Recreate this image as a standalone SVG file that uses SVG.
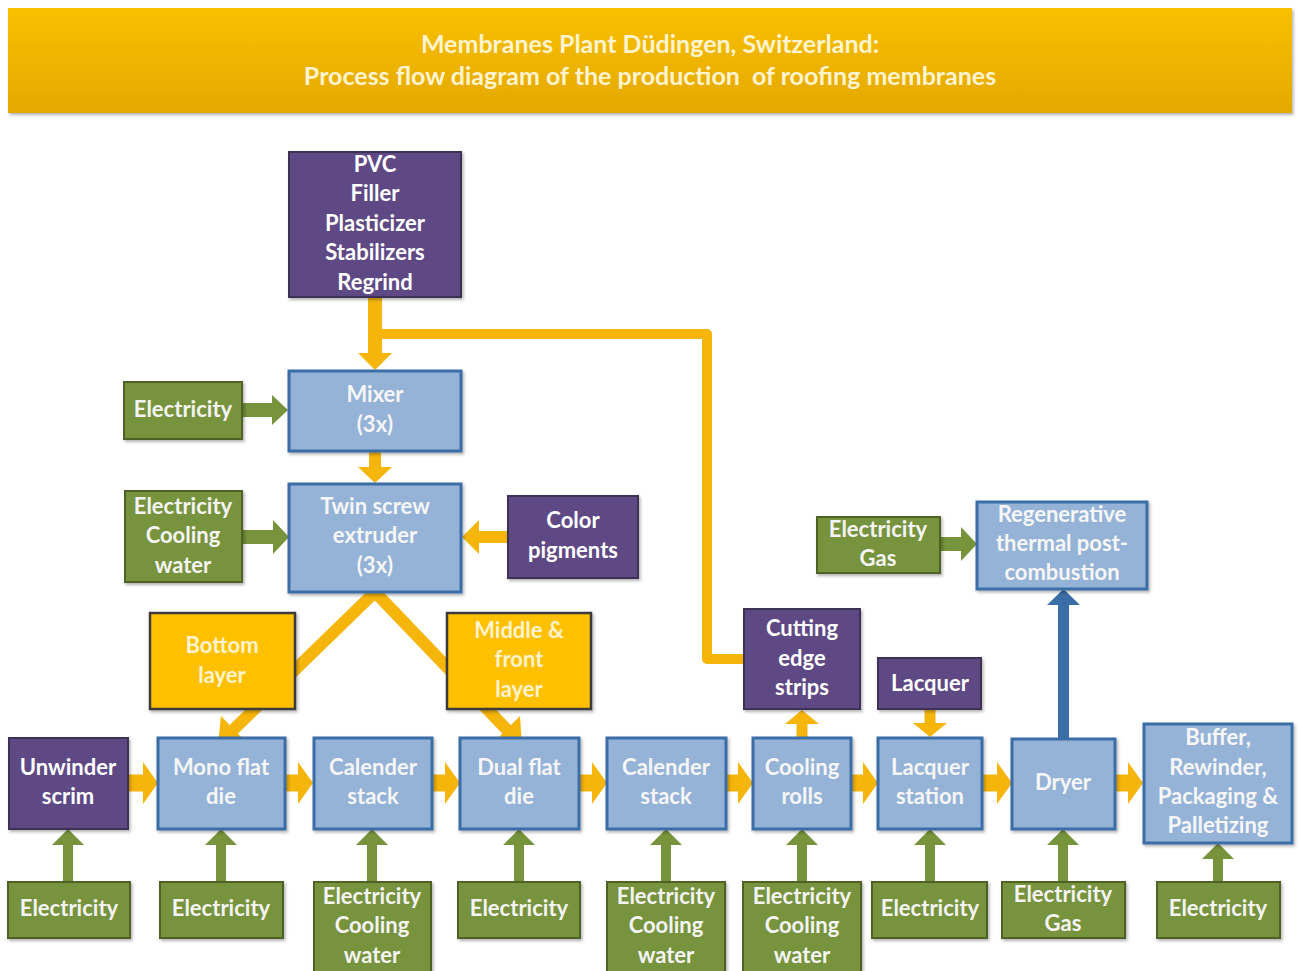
<svg xmlns="http://www.w3.org/2000/svg" width="1298" height="971" viewBox="0 0 1298 971">
<defs>
  <linearGradient id="titleGrad" x1="0" y1="0" x2="0" y2="1">
    <stop offset="0" stop-color="#f8c000"/>
    <stop offset="1" stop-color="#e4a800"/>
  </linearGradient>
  <filter id="sh" x="-10%" y="-10%" width="130%" height="130%">
    <feDropShadow dx="1.5" dy="2" stdDeviation="1.8" flood-color="#000" flood-opacity="0.3"/>
  </filter>
  <style>
    text { font-family: Lato, "Open Sans", "Liberation Sans", sans-serif; font-weight: bold; font-size: 22px; text-anchor: middle; }
    .title { fill: #fff4cf; font-size: 25px; white-space: pre; }
    .blue rect { fill: #95b3d7; stroke: #3b6da6; stroke-width: 3; filter: url(#sh); }
    .blue text { fill: #f6f6f6; }
    .purple rect { fill: #5e4a85; stroke: #3d3155; stroke-width: 2; filter: url(#sh); }
    .purple text { fill: #ffffff; }
    .green rect { fill: #77933c; stroke: #4f6228; stroke-width: 2; filter: url(#sh); }
    .green text { fill: #f4f4f4; }
    .orange rect { fill: #ffc000; stroke: #3a3a3a; stroke-width: 2.5; filter: url(#sh); }
    .orange text { fill: #fff4cf; }
    .oa { fill: #f5b50a; }
    .ol { fill: none; stroke: #f5b50a; stroke-linejoin: round; }
    .ga { fill: #77933c; }
    .ba { fill: #3b6da6; }
  </style>
</defs>
<rect width="1298" height="971" fill="#ffffff"/>

<g id="title">
  <rect x="8" y="8" width="1284" height="105" fill="url(#titleGrad)" filter="url(#sh)"/>
  <text class="title" x="650" y="53">Membranes Plant Düdingen, Switzerland:</text>
  <text class="title" x="650" y="85" xml:space="preserve">Process flow diagram of the production  of roofing membranes</text>
</g>

<g id="connectors">
  <!-- regrind loop -->
  <path class="ol" stroke-width="10" d="M 378 334 H 707 V 659 H 746"/>
  <!-- PVC to mixer -->
  <path class="oa" d="M 368 297 H 382 V 353 H 392 L 375 370 L 358 353 H 368 Z"/>
  <!-- mixer to extruder -->
  <path class="oa" d="M 369 452 H 381 V 467 H 392 L 375 483 L 358 467 H 369 Z"/>
  <!-- color pigments to extruder -->
  <path class="oa" d="M 508 531 V 543 H 479 V 554 L 462 537 L 479 520 V 531 Z"/>
  <!-- diagonals -->
  <path class="ol" stroke-width="12" d="M 230 733 L 375 592 L 512 735"/>
  <path class="oa" d="M 218 745 L 221 716 L 246 742 Z"/>
  <path class="oa" d="M 522 745 L 494 742 L 520 716 Z"/>
  <!-- bottom row horizontal arrows -->
  <path class="oa" d="M 128 774.5 H 143 V 762 L 158 783 L 143 804 V 791.5 H 128 Z"/>
  <path class="oa" d="M 285 774.5 H 298 V 762 L 313 783 L 298 804 V 791.5 H 285 Z"/>
  <path class="oa" d="M 432 774.5 H 445 V 762 L 460 783 L 445 804 V 791.5 H 432 Z"/>
  <path class="oa" d="M 579 774.5 H 592 V 762 L 607 783 L 592 804 V 791.5 H 579 Z"/>
  <path class="oa" d="M 726 774.5 H 738 V 762 L 753 783 L 738 804 V 791.5 H 726 Z"/>
  <path class="oa" d="M 851 774.5 H 863 V 762 L 878 783 L 863 804 V 791.5 H 851 Z"/>
  <path class="oa" d="M 982 774.5 H 997 V 762 L 1012 783 L 997 804 V 791.5 H 982 Z"/>
  <path class="oa" d="M 1115 774.5 H 1128 V 762 L 1143 783 L 1128 804 V 791.5 H 1115 Z"/>
  <!-- cooling rolls to cutting edge strips -->
  <path class="oa" d="M 796.5 737 V 724 H 785 L 802 710 L 819 724 H 807.5 V 737 Z"/>
  <!-- lacquer to lacquer station -->
  <path class="oa" d="M 924.5 710 V 723 H 913 L 930 737 L 947 723 H 935.5 V 710 Z"/>
  <!-- dryer to regenerative -->
  <path class="ba" d="M 1058 738 V 605 H 1047 L 1063.5 589 L 1080 605 H 1069 V 738 Z"/>
  <!-- green horizontal arrows -->
  <path class="ga" d="M 242 403 H 272 V 395 L 288 410 L 272 425 V 417 H 242 Z"/>
  <path class="ga" d="M 243 530 H 273 V 520 L 289 537 L 273 554 V 544 H 243 Z"/>
  <path class="ga" d="M 940 537 H 961 V 527 L 977 544 L 961 561 V 551 H 940 Z"/>
  <!-- green vertical arrows -->
  <path class="ga" d="M 63 882 V 845 H 52 L 68 829 L 84 845 H 73 V 882 Z"/>
  <path class="ga" d="M 216 882 V 845 H 205 L 221 829 L 237 845 H 226 V 882 Z"/>
  <path class="ga" d="M 367 882 V 845 H 356 L 372 829 L 388 845 H 377 V 882 Z"/>
  <path class="ga" d="M 514 882 V 845 H 503 L 519 829 L 535 845 H 524 V 882 Z"/>
  <path class="ga" d="M 661 882 V 845 H 650 L 666 829 L 682 845 H 671 V 882 Z"/>
  <path class="ga" d="M 797 882 V 845 H 786 L 802 829 L 818 845 H 807 V 882 Z"/>
  <path class="ga" d="M 925 882 V 845 H 914 L 930 829 L 946 845 H 935 V 882 Z"/>
  <path class="ga" d="M 1058 882 V 845 H 1047 L 1063 829 L 1079 845 H 1068 V 882 Z"/>
  <path class="ga" d="M 1213 882 V 859 H 1202 L 1218 843 L 1234 859 H 1223 V 882 Z"/>
</g>

<g id="pvc" class="purple">
  <rect x="289" y="152" width="172" height="145"/>
  <text x="375" y="172">PVC</text>
  <text x="375" y="201">Filler</text>
  <text x="375" y="231">Plasticizer</text>
  <text x="375" y="260">Stabilizers</text>
  <text x="375" y="290">Regrind</text>
</g>
<g id="mixer" class="blue">
  <rect x="289" y="371" width="172" height="80"/>
  <text x="375" y="402">Mixer</text>
  <text x="375" y="432">(3x)</text>
</g>
<g id="elec-mixer" class="green">
  <rect x="124" y="382" width="118" height="57"/>
  <text x="183" y="417">Electricity</text>
</g>
<g id="extruder" class="blue">
  <rect x="289" y="484" width="172" height="108"/>
  <text x="375" y="514">Twin screw</text>
  <text x="375" y="543">extruder</text>
  <text x="375" y="573">(3x)</text>
</g>
<g id="elec-extruder" class="green">
  <rect x="125" y="491" width="117" height="91"/>
  <text x="183" y="514">Electricity</text>
  <text x="183" y="543">Cooling</text>
  <text x="183" y="573">water</text>
</g>
<g id="color-pigments" class="purple">
  <rect x="508" y="496" width="130" height="82"/>
  <text x="573" y="528">Color</text>
  <text x="573" y="558">pigments</text>
</g>
<g id="bottom-layer" class="orange">
  <rect x="150" y="613" width="145" height="96"/>
  <text x="222" y="653">Bottom</text>
  <text x="222" y="683">layer</text>
</g>
<g id="middle-front-layer" class="orange">
  <rect x="447" y="613" width="144" height="96"/>
  <text x="519" y="638">Middle &amp;</text>
  <text x="519" y="667">front</text>
  <text x="519" y="697">layer</text>
</g>
<g id="cutting-edge" class="purple">
  <rect x="744" y="609" width="116" height="100"/>
  <text x="802" y="636">Cutting</text>
  <text x="802" y="666">edge</text>
  <text x="802" y="695">strips</text>
</g>
<g id="lacquer" class="purple">
  <rect x="878" y="658" width="103" height="51"/>
  <text x="930" y="691">Lacquer</text>
</g>
<g id="regenerative" class="blue">
  <rect x="977" y="502" width="170" height="87"/>
  <text x="1062" y="522">Regenerative</text>
  <text x="1062" y="551">thermal post-</text>
  <text x="1062" y="580">combustion</text>
</g>
<g id="elec-gas-top" class="green">
  <rect x="817" y="517" width="123" height="56"/>
  <text x="878" y="537">Electricity</text>
  <text x="878" y="566">Gas</text>
</g>

<g id="unwinder" class="purple">
  <rect x="9" y="738" width="119" height="91"/>
  <text x="68" y="775">Unwinder</text>
  <text x="68" y="804">scrim</text>
</g>
<g id="mono-flat-die" class="blue">
  <rect x="158" y="738" width="127" height="91"/>
  <text x="221" y="775">Mono flat</text>
  <text x="221" y="804">die</text>
</g>
<g id="calender-1" class="blue">
  <rect x="314" y="738" width="118" height="91"/>
  <text x="373" y="775">Calender</text>
  <text x="373" y="804">stack</text>
</g>
<g id="dual-flat-die" class="blue">
  <rect x="460" y="738" width="119" height="91"/>
  <text x="519" y="775">Dual flat</text>
  <text x="519" y="804">die</text>
</g>
<g id="calender-2" class="blue">
  <rect x="607" y="738" width="119" height="91"/>
  <text x="666" y="775">Calender</text>
  <text x="666" y="804">stack</text>
</g>
<g id="cooling-rolls" class="blue">
  <rect x="753" y="738" width="98" height="91"/>
  <text x="802" y="775">Cooling</text>
  <text x="802" y="804">rolls</text>
</g>
<g id="lacquer-station" class="blue">
  <rect x="878" y="738" width="104" height="91"/>
  <text x="930" y="775">Lacquer</text>
  <text x="930" y="804">station</text>
</g>
<g id="dryer" class="blue">
  <rect x="1012" y="739" width="103" height="90"/>
  <text x="1063" y="790">Dryer</text>
</g>
<g id="buffer" class="blue">
  <rect x="1144" y="724" width="148" height="119"/>
  <text x="1218" y="745">Buffer,</text>
  <text x="1218" y="775">Rewinder,</text>
  <text x="1218" y="804">Packaging &amp;</text>
  <text x="1218" y="833">Palletizing</text>
</g>

<g id="elec-1" class="green">
  <rect x="8" y="882" width="122" height="56"/>
  <text x="69" y="916">Electricity</text>
</g>
<g id="elec-2" class="green">
  <rect x="160" y="882" width="123" height="56"/>
  <text x="221" y="916">Electricity</text>
</g>
<g id="elec-3" class="green">
  <rect x="314" y="882" width="117" height="95"/>
  <text x="372" y="904">Electricity</text>
  <text x="372" y="933">Cooling</text>
  <text x="372" y="963">water</text>
</g>
<g id="elec-4" class="green">
  <rect x="458" y="882" width="122" height="56"/>
  <text x="519" y="916">Electricity</text>
</g>
<g id="elec-5" class="green">
  <rect x="607" y="882" width="118" height="95"/>
  <text x="666" y="904">Electricity</text>
  <text x="666" y="933">Cooling</text>
  <text x="666" y="963">water</text>
</g>
<g id="elec-6" class="green">
  <rect x="743" y="882" width="118" height="95"/>
  <text x="802" y="904">Electricity</text>
  <text x="802" y="933">Cooling</text>
  <text x="802" y="963">water</text>
</g>
<g id="elec-7" class="green">
  <rect x="872" y="882" width="115" height="56"/>
  <text x="930" y="916">Electricity</text>
</g>
<g id="elec-8" class="green">
  <rect x="1002" y="882" width="123" height="56"/>
  <text x="1063" y="902">Electricity</text>
  <text x="1063" y="931">Gas</text>
</g>
<g id="elec-9" class="green">
  <rect x="1157" y="882" width="123" height="56"/>
  <text x="1218" y="916">Electricity</text>
</g>
</svg>
